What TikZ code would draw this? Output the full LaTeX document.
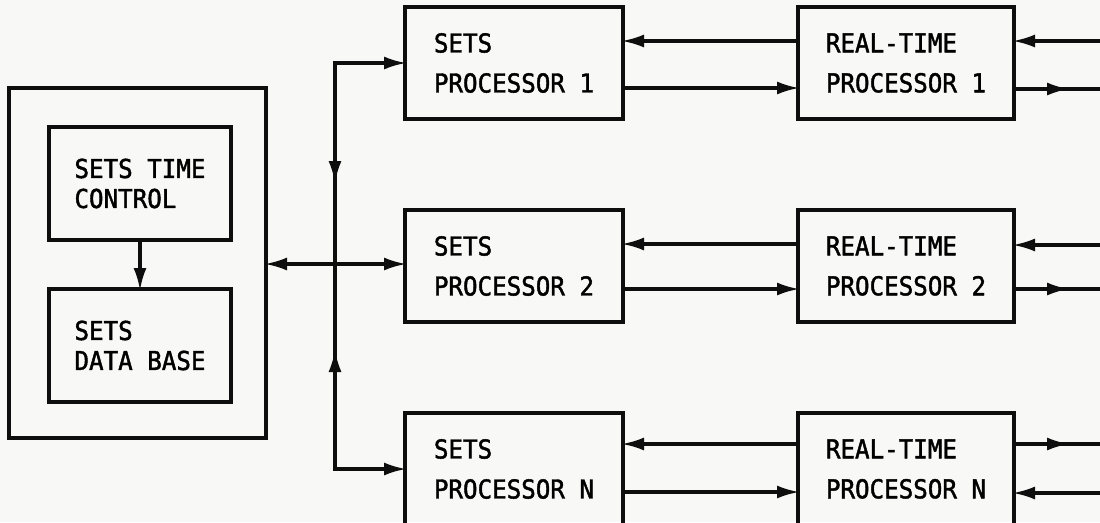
\documentclass[tikz,border=0pt]{standalone}
\usepackage{fontspec}
\usetikzlibrary{arrows.meta, positioning}
\newfontfamily\letterfont[FakeStretch=0.93, FakeBold=1.6]{DejaVu Sans Mono}
\definecolor{inkblack}{RGB}{14,14,14}
\definecolor{paper}{RGB}{248,248,246}

\begin{document}
\begin{tikzpicture}[x=1pt, y=-1pt,
    procbox/.style={rectangle, draw=inkblack, line width=3.6pt, outer sep=0pt, minimum width=218pt, minimum height=112pt, align=left, font=\letterfont\fontsize{26}{40}\selectfont},
    innerbox/.style={rectangle, draw=inkblack, line width=3.6pt, outer sep=0pt, minimum width=182pt, minimum height=113pt, align=left, font=\letterfont\fontsize{26}{30}\selectfont},
    frame/.style={rectangle, draw=inkblack, line width=3.6pt, outer sep=0pt, minimum width=257pt, minimum height=350pt},
    flow/.style={-{Latex[length=23pt, width=13pt]}, shorten >=-2pt, line width=3.6pt, color=inkblack},
    wire/.style={line width=3.6pt, color=inkblack}
]
\path[use as bounding box, fill=paper] (0,0) rectangle (1100,522);
\clip (0,0) rectangle (1100,522);

\node[frame] (outer) at (137.5,263) {};
\node[innerbox] (stc) at (140,183.5) {SETS TIME\\CONTROL};
\node[innerbox, below=49pt of stc] (sdb) {SETS\\DATA BASE};

\node[procbox] (sp1) at (514,63) {SETS\\PROCESSOR 1};
\node[procbox, below=91pt of sp1] (sp2) {SETS\\PROCESSOR 2};
\node[procbox, below=91pt of sp2] (spN) {SETS\\PROCESSOR N};
\node[procbox, minimum width=216pt, right=175pt of sp1] (rtp1) {REAL-TIME\\PROCESSOR 1};
\node[procbox, minimum width=216pt, right=175pt of sp2] (rtp2) {REAL-TIME\\PROCESSOR 2};
\node[procbox, minimum width=216pt, right=175pt of spN] (rtpN) {REAL-TIME\\PROCESSOR N};

% bus between data base and the sets processors
\coordinate (hub) at (335,264);
\coordinate (busTop) at (hub |- sp1.west);
\coordinate (busBot) at (hub |- spN.west);
\coordinate (busDown) at (335,184);
\coordinate (busUp) at (335,349);

\draw[flow] (stc) -- (sdb);
\draw[flow] (hub) -- (outer.east |- hub);
\draw[flow] (hub) -- (sp2.west |- hub);
\draw[flow] (busDown) |- (sp1.west);
\draw[flow, shorten >=0pt] (busTop) -- (busDown);
\draw[flow] (busUp) |- (spN.west);
\draw[flow, shorten >=0pt] (busBot) -- (busUp);
\draw[wire] (busDown) -- (busUp);

% sets <-> real-time
\draw[flow] ([yshift=22pt]rtp1.west) -- ([yshift=22pt]sp1.east);
\draw[flow] ([yshift=-25pt]sp1.east) -- ([yshift=-25pt]rtp1.west);
\draw[flow] ([yshift=22pt]rtp2.west) -- ([yshift=22pt]sp2.east);
\draw[flow] ([yshift=-23pt]sp2.east) -- ([yshift=-23pt]rtp2.west);
\draw[flow] ([yshift=25pt]rtpN.west) -- ([yshift=25pt]spN.east);
\draw[flow] ([yshift=-23pt]spN.east) -- ([yshift=-23pt]rtpN.west);

% links leaving the page
\coordinate (r1in) at (1100,41);
\coordinate (r1out) at (1100,89);
\coordinate (r2in) at (1100,245);
\coordinate (r2out) at (1100,289);
\coordinate (rNout) at (1100,444);
\coordinate (rNin) at (1100,493);
\draw[flow] (r1in) -- (r1in -| rtp1.east);
\draw[wire] (r1out -| rtp1.east) -- (r1out);
\draw[flow, shorten >=0pt] (r1out -| rtp1.east) -- ++(56,0);
\draw[flow] (r2in) -- (r2in -| rtp2.east);
\draw[wire] (r2out -| rtp2.east) -- (r2out);
\draw[flow, shorten >=0pt] (r2out -| rtp2.east) -- ++(56,0);
\draw[wire] (rNout -| rtpN.east) -- (rNout);
\draw[flow, shorten >=0pt] (rNout -| rtpN.east) -- ++(56,0);
\draw[flow] (rNin) -- (rNin -| rtpN.east);
\end{tikzpicture}
\end{document}
